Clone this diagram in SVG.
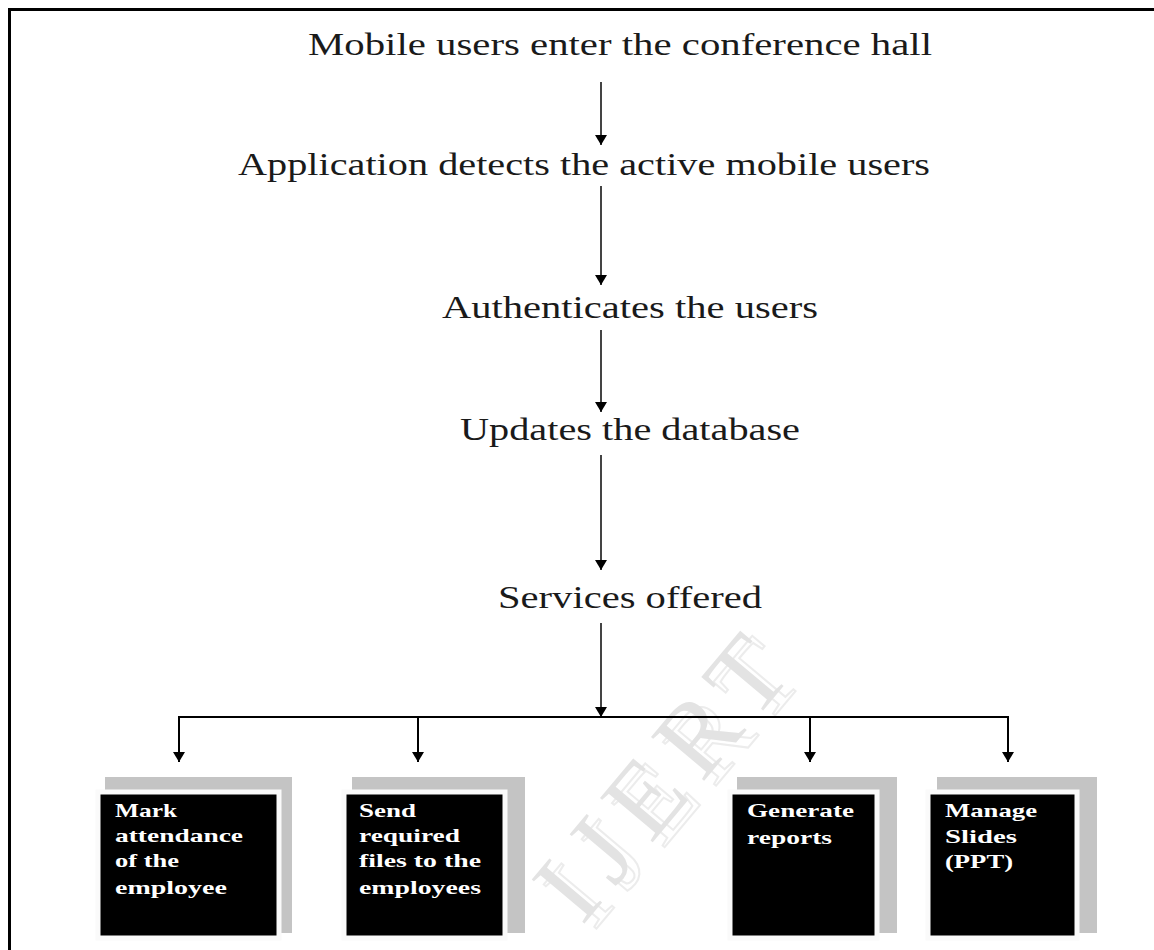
<svg xmlns="http://www.w3.org/2000/svg" width="1154" height="950" viewBox="0 0 1154 950">
<style>
.lbl{font-family:"Liberation Serif","Times New Roman",serif;font-size:32px;fill:#1a1a1a}
.btxt{font-family:"Liberation Serif","Times New Roman",serif;font-size:19px;font-weight:bold;fill:#ffffff}
.flow{stroke:#444;stroke-width:2;fill:none}
.conn{stroke:#000;stroke-width:2;fill:none}
.shadow{fill:#c4c4c4}
.box{fill:#000;stroke:#fafafa;stroke-width:5}
.wm{font-family:"Liberation Serif","Times New Roman",serif;font-size:105px}
</style>
<defs>
<marker id="ah" viewBox="0 0 10 12" refX="10" refY="6" markerWidth="10" markerHeight="12" markerUnits="userSpaceOnUse" orient="auto">
<path d="M0,0 L10,6 L0,12 Z" fill="#000"/>
</marker>
</defs>
<rect width="1154" height="950" fill="#fff"/>
<path d="M9.5,950 V9.5 H1154" fill="none" stroke="#000" stroke-width="3"/>
<g id="watermark">
<text class="wm" x="0" y="0" text-anchor="middle" textLength="330" lengthAdjust="spacing" transform="translate(700,805) rotate(-50)" fill="none" stroke="#ececec" stroke-width="2">IJERT</text>
<text class="wm" x="0" y="0" text-anchor="middle" textLength="330" lengthAdjust="spacing" transform="translate(688,800) rotate(-50)" fill="#e3e3e3">IJERT</text>
</g>
<g id="connectors">
<line class="flow" x1="601" y1="82" x2="601" y2="145" marker-end="url(#ah)"/>
<line class="flow" x1="601" y1="186" x2="601" y2="285" marker-end="url(#ah)"/>
<line class="flow" x1="601" y1="330" x2="601" y2="412" marker-end="url(#ah)"/>
<line class="flow" x1="601" y1="455" x2="601" y2="570" marker-end="url(#ah)"/>
<line class="flow" x1="601" y1="623" x2="601" y2="717" marker-end="url(#ah)"/>
<line class="conn" x1="178" y1="717" x2="1009" y2="717"/>
<line class="conn" x1="179" y1="716" x2="179" y2="762" marker-end="url(#ah)"/>
<line class="conn" x1="418" y1="716" x2="418" y2="762" marker-end="url(#ah)"/>
<line class="conn" x1="810" y1="716" x2="810" y2="762" marker-end="url(#ah)"/>
<line class="conn" x1="1008" y1="716" x2="1008" y2="762" marker-end="url(#ah)"/>
</g>
<g id="n1"><text class="lbl" x="308" y="55" textLength="624" lengthAdjust="spacingAndGlyphs">Mobile users enter the conference hall</text></g>
<g id="n2"><text class="lbl" x="238" y="175" textLength="692" lengthAdjust="spacingAndGlyphs">Application detects the active mobile users</text></g>
<g id="n3"><text class="lbl" x="442" y="318" textLength="376" lengthAdjust="spacingAndGlyphs">Authenticates the users</text></g>
<g id="n4"><text class="lbl" x="460" y="440" textLength="340" lengthAdjust="spacingAndGlyphs">Updates the database</text></g>
<g id="n5"><text class="lbl" x="498" y="608" textLength="264" lengthAdjust="spacingAndGlyphs">Services offered</text></g>
<g id="b1">
<rect class="shadow" x="105" y="777" width="187" height="156"/>
<rect class="box" x="98" y="792" width="181" height="146"/>
<text class="btxt" x="115" y="817" textLength="62" lengthAdjust="spacingAndGlyphs">Mark</text>
<text class="btxt" x="115" y="842" textLength="128" lengthAdjust="spacingAndGlyphs">attendance</text>
<text class="btxt" x="115" y="867" textLength="64" lengthAdjust="spacingAndGlyphs">of the</text>
<text class="btxt" x="115" y="894" textLength="112" lengthAdjust="spacingAndGlyphs">employee</text>
</g>
<g id="b2">
<rect class="shadow" x="352" y="777" width="173" height="156"/>
<rect class="box" x="344" y="792" width="161" height="146"/>
<text class="btxt" x="359" y="817" textLength="57" lengthAdjust="spacingAndGlyphs">Send</text>
<text class="btxt" x="359" y="842" textLength="101" lengthAdjust="spacingAndGlyphs">required</text>
<text class="btxt" x="359" y="867" textLength="122" lengthAdjust="spacingAndGlyphs">files to the</text>
<text class="btxt" x="359" y="894" textLength="122" lengthAdjust="spacingAndGlyphs">employees</text>
</g>
<g id="b3">
<rect class="shadow" x="737" y="777" width="160" height="156"/>
<rect class="box" x="730" y="792" width="147" height="146"/>
<text class="btxt" x="747" y="817" textLength="107" lengthAdjust="spacingAndGlyphs">Generate</text>
<text class="btxt" x="747" y="844" textLength="85" lengthAdjust="spacingAndGlyphs">reports</text>
</g>
<g id="b4">
<rect class="shadow" x="937" y="777" width="160" height="156"/>
<rect class="box" x="928" y="792" width="149" height="146"/>
<text class="btxt" x="945" y="817" textLength="92" lengthAdjust="spacingAndGlyphs">Manage</text>
<text class="btxt" x="945" y="843" textLength="72" lengthAdjust="spacingAndGlyphs">Slides</text>
<text class="btxt" x="945" y="868" textLength="68" lengthAdjust="spacingAndGlyphs">(PPT)</text>
</g>
</svg>
